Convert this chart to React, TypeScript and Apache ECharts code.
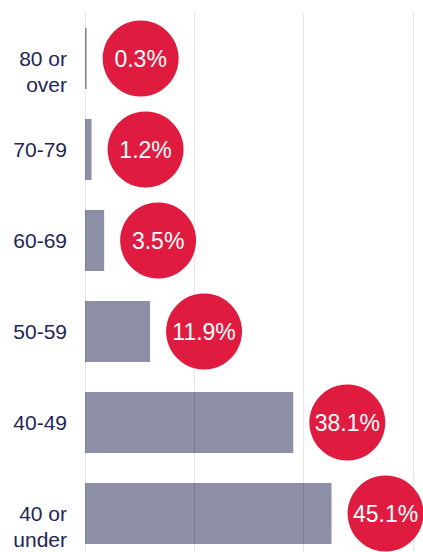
import React, { useEffect, useRef } from "react";
import * as echarts from "echarts";

const categories = ["80 or\nover", "70-79", "60-69", "50-59", "40-49", "40 or\nunder"];
const shares = [0.3, 1.2, 3.5, 11.9, 38.1, 45.1];
const xTicks = [0, 20, 40, 60];

export default function App() {
  const ref = useRef<HTMLDivElement>(null);
  useEffect(() => {
    const chart = echarts.init(ref.current!, undefined, { renderer: "svg" });
    chart.setOption({
      animation: false,
      grid: { left: 85, top: 13, right: 10, bottom: 1, containLabel: false },
      xAxis: {
        type: "value",
        min: xTicks[0],
        max: xTicks[xTicks.length - 1],
        interval: 20,
        z: 3,
        axisLabel: { show: false },
        axisLine: { show: false },
        axisTick: { show: false },
        splitLine: { show: true, lineStyle: { color: "rgba(0,0,0,0.1)", width: 1 } },
      },
      yAxis: {
        type: "category",
        data: categories,
        inverse: true,
        axisLine: { show: false },
        axisTick: { show: false },
        axisLabel: {
          color: "#1e2656",
          fontFamily: "Liberation Sans, Arial, sans-serif",
          fontSize: 21,
          lineHeight: 26,
          margin: 18,
          align: "right",
          formatter: (v: string) => (v.indexOf("\n") >= 0 ? "\n" + v : v),
        },
      },
      series: [
        {
          type: "bar",
          data: shares,
          barCategoryGap: "33%",
          itemStyle: { color: "#8c8fa6" },
          z: 2,
        },
        {
          type: "scatter",
          data: shares.map((v, i) => [v, i]),
          symbol: "circle",
          symbolSize: 76,
          symbolOffset: [54, 0],
          itemStyle: { color: "#df1c40", opacity: 1 },
          z: 5,
          label: {
            show: true,
            position: "inside",
            color: "#ffffff",
            fontFamily: "Liberation Sans, Arial, sans-serif",
            fontSize: 23,
            formatter: (p: any) => p.value[0].toFixed(1) + "%",
          },
        },
      ],
    });
    return () => chart.dispose();
  }, []);
  return (
    <div
      ref={ref}
      style={{ position: "fixed", left: 0, top: 0, width: 423, height: 560, background: "#fff" }}
    />
  );
}
